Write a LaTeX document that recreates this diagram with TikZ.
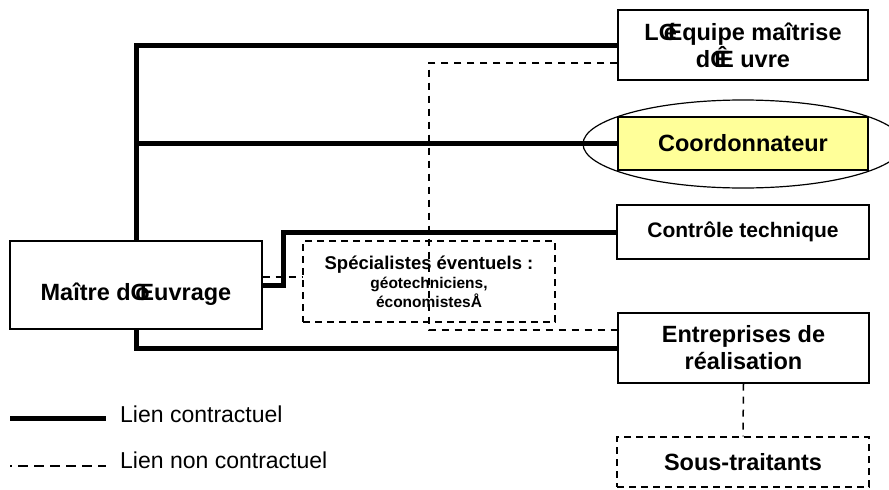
\documentclass[tikz,border=0pt]{standalone}
\usepackage{fontspec}
\setmainfont{Liberation Sans}
\usepackage{graphicx}
\usetikzlibrary{calc,shapes.geometric}
\definecolor{coordfill}{RGB}{255,255,153}
% two glyphs printed on top of each other, centred
\newcommand{\overprint}[2]{{\ooalign{\hfil#1\hfil\cr\hfil#2\hfil\cr}}}

\begin{document}
\begin{tikzpicture}[x=1pt,y=-1pt,
  box/.style={draw, line width=1.2pt, rectangle, inner sep=0pt, align=center,
    minimum width=251pt, font=\bfseries\fontsize{23.5}{30}\selectfont},
  dbox/.style={box, line width=1.5pt, dash pattern=on 7pt off 5pt},
  contract/.style={line width=5pt},
  noncontract/.style={line width=1.5pt, dash pattern=on 7pt off 6pt},
  legendtext/.style={anchor=base west, inner sep=0pt, font=\fontsize{23}{27}\selectfont},
]
\useasboundingbox (0,0) rectangle (889,490);

% ring drawn first so the yellow box covers it
\node[draw, ellipse, line width=1.2pt, minimum width=320pt, minimum height=88pt,
  inner sep=0pt] (ring) at (743,144) {};

% boxes
\node[box, minimum width=250pt, minimum height=70pt] (equipe) at (743,45)
  {\raisebox{-3pt}[\height][\depth]{\begin{tabular}{@{}c@{}}L\overprint{Œ}{é}quipe maîtrise\\[-3pt] d\overprint{Œ}{Ê}\ uvre\end{tabular}}};
\node[box, fill=coordfill, minimum width=250pt, minimum height=53pt] (coord) at (743,143.5) {Coordonnateur};
\node[box, minimum width=252pt, minimum height=54pt,
  font=\bfseries\fontsize{21}{25}\selectfont] (ctrl) at (743,232) {Contrôle technique};
\node[box, minimum width=251pt, minimum height=70pt,
  font=\bfseries\fontsize{23.5}{27}\selectfont] (entr) at (743.5,348) {Entreprises de\\réalisation};
\node[dbox, minimum width=252pt, minimum height=50pt] (sous) at (743,462) {Sous-traitants};
\node[box, minimum width=252pt, minimum height=88pt] (moa) at (136,285)
  {\raisebox{-9pt}[\height][\depth]{Maître d\overprint{Œ}{o}uvrage}};
\node[dbox, minimum width=252pt, minimum height=81pt,
  font=\bfseries\fontsize{15.5}{19}\selectfont] (spec) at (429,281.5)
  {{\fontsize{18.5}{19}\selectfont Spécialistes éventuels :}\\géotechniciens,\\économistesÅ};

% contractual links
\draw[contract] (moa.north) |- (equipe.west);
\draw[contract] (moa.north |- coord.west) -- (coord.west);
\draw[contract] (moa.east) -- ++(21,0) |- (ctrl.west);
\draw[contract] (moa.south) |- (entr.west);

% non-contractual links
\coordinate (dtop) at ($(equipe.west)+(0,18)$);
\coordinate (dbot) at ($(entr.west)+(0,-18)$);
\draw[noncontract] (dtop) -| (spec.center |- dbot) -- (dbot);
\coordinate (moaout) at ($(moa.east)+(0,-8)$);
\draw[noncontract] (moaout) -- (spec.west |- moaout);
\draw[noncontract] (entr.south) -- (sous.north);

% legend
\coordinate (l1a) at (10,418);
\coordinate (l1b) at (106,418);
\draw[contract] (l1a) -- (l1b);
\node[legendtext] (l1t) at (120,422) {Lien contractuel};
\coordinate (l2a) at (10,466);
\coordinate (l2b) at (106,466);
\draw[line width=1.5pt, dash pattern=on 10pt off 6pt, dash phase=8pt] (l2a) -- (l2b);
\node[legendtext] (l2t) at (120,468) {Lien non contractuel};
\end{tikzpicture}
\end{document}
